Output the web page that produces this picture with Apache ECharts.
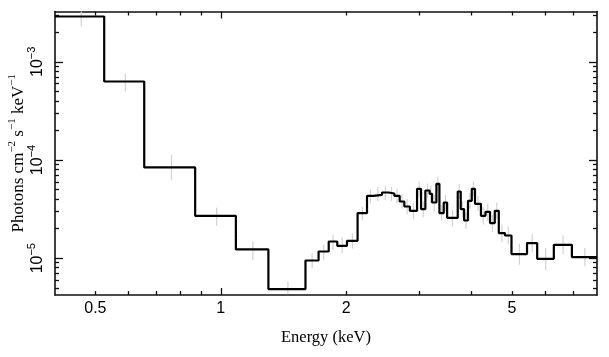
<!DOCTYPE html>
<html><head><meta charset="utf-8">
<script src="https://cdn.jsdelivr.net/npm/echarts@6/dist/echarts.min.js"></script>
<style>html,body{margin:0;padding:0;background:#fff}#c{width:609px;height:357px}</style>
</head><body><div id="c"></div>
<script>
// Bin edges (keV)
const binEdges = [0.4, 0.525, 0.655, 0.868, 1.087, 1.301, 1.597, 1.717, 1.816, 1.904, 2.009, 2.130, 2.244, 2.327, 2.438, 2.529, 2.610, 2.688, 2.758, 2.844, 2.959, 3.025, 3.098, 3.172, 3.215, 3.293, 3.348, 3.429, 3.494, 3.705, 3.767, 3.838, 3.921, 4.004, 4.076, 4.212, 4.319, 4.429, 4.547, 4.649, 4.811, 4.987, 5.434, 5.748, 6.302, 6.963, 8.0];
// Model flux per bin (photons cm^-2 s^-1 keV^-1)
const modelFlux = [2.89e-3, 6.30e-4, 8.39e-5, 2.70e-5, 1.227e-5, 4.85e-6, 9.47e-6, 1.170e-5, 1.480e-5, 1.338e-5, 1.504e-5, 2.879e-5, 4.318e-5, 4.419e-5, 4.667e-5, 4.560e-5, 4.318e-5, 3.779e-5, 3.362e-5, 3.039e-5, 5.089e-5, 3.162e-5, 4.891e-5, 4.525e-5, 3.691e-5, 5.724e-5, 2.879e-5, 3.691e-5, 2.579e-5, 4.777e-5, 3.162e-5, 2.421e-5, 3.841e-5, 5.089e-5, 3.581e-5, 2.70e-5, 2.969e-5, 2.277e-5, 3.039e-5, 1.801e-5, 1.703e-5, 1.101e-5, 1.425e-5, 9.86e-6, 1.369e-5, 1.026e-5];
// Data error bar extents per bin
const dataLo = [2.29e-3, 4.98e-4, 6.3e-5, 2.14e-5, 9.6e-6, 4.3e-6, 7.9e-6, 9.6e-6, 1.22e-5, 1.12e-5, 1.25e-5, 2.45e-5, 3.6e-5, 3.8e-5, 3.9e-5, 3.8e-5, 3.6e-5, 3.2e-5, 2.8e-5, 2.5e-5, 4.2e-5, 2.6e-5, 4.1e-5, 3.7e-5, 3.0e-5, 4.8e-5, 2.4e-5, 3.0e-5, 2.1e-5, 4.0e-5, 2.6e-5, 2.0e-5, 3.2e-5, 4.3e-5, 3.0e-5, 2.2e-5, 2.4e-5, 1.85e-5, 2.5e-5, 1.45e-5, 1.38e-5, 8.6e-6, 1.15e-5, 7.6e-6, 1.1e-5, 8.3e-6];
const dataHi = [3.38e-3, 7.55e-4, 1.13e-4, 3.26e-5, 1.48e-5, 5.8e-6, 1.12e-5, 1.38e-5, 1.74e-5, 1.62e-5, 1.78e-5, 3.35e-5, 5.0e-5, 5.3e-5, 5.4e-5, 5.3e-5, 5.1e-5, 4.5e-5, 4.0e-5, 3.6e-5, 6.0e-5, 3.8e-5, 5.8e-5, 5.4e-5, 4.4e-5, 6.8e-5, 3.5e-5, 4.4e-5, 3.1e-5, 5.7e-5, 3.8e-5, 2.9e-5, 4.6e-5, 6.0e-5, 4.3e-5, 3.3e-5, 3.6e-5, 2.75e-5, 3.7e-5, 2.2e-5, 2.1e-5, 1.4e-5, 1.75e-5, 1.26e-5, 1.7e-5, 1.27e-5];

const xRange = [0.4, 8];
const yRange = [4.22e-6, 3.25e-3];
const xLabelTicks = [0.5, 1, 2, 5];
const xMajorTicks = [1];
const xMinorTicks = [0.5, 0.6, 0.7, 0.8, 0.9, 2, 3, 4, 5, 6, 7];
const yMajorTicks = [1e-5, 1e-4, 1e-3];
const yMinorTicks = [5e-6, 6e-6, 7e-6, 8e-6, 9e-6, 2e-5, 3e-5, 4e-5, 5e-5, 6e-5, 7e-5, 8e-5, 9e-5, 2e-4, 3e-4, 4e-4, 5e-4, 6e-4, 7e-4, 8e-4, 9e-4, 2e-3, 3e-3];
const xTitle = 'Energy (keV)';
const yTitle = '{a|Photons cm}{s|−2}{a| s}{s|−1}{a| keV}{s|−1}';

const L = Math.log10;
const nBins = modelFlux.length;
const stepData = binEdges.map((e, i) => [e, modelFlux[Math.min(i, nBins - 1)]]);
const errData = modelFlux.map((m, i) => [(binEdges[i] + binEdges[i + 1]) / 2, dataLo[i], dataHi[i]]);

const AX = '#111';
function overlayX(pos, ticks, len, withLine, labels) {
  return {
    type: 'value', gridIndex: 0, position: pos, min: L(xRange[0]), max: L(xRange[1]),
    axisLine: { show: withLine, onZero: false, lineStyle: { color: AX, width: 1.6 } },
    axisTick: { show: true, inside: true, length: len, customValues: ticks.map(L), lineStyle: { color: AX, width: 1.3 } },
    axisLabel: labels ? {
      show: true, customValues: xLabelTicks.map(L), margin: 6,
      fontFamily: 'Liberation Sans', fontSize: 16, color: '#000',
      formatter: v => String(Math.round(Math.pow(10, v) * 10) / 10)
    } : { show: false },
    splitLine: { show: false }
  };
}
function overlayY(pos, ticks, len, withLine, labels) {
  return {
    type: 'value', gridIndex: 0, position: pos, min: L(yRange[0]), max: L(yRange[1]),
    axisLine: { show: withLine, onZero: false, lineStyle: { color: AX, width: 1.6 } },
    axisTick: { show: true, inside: true, length: len, customValues: ticks.map(L), lineStyle: { color: AX, width: 1.3 } },
    axisLabel: labels ? {
      show: true, customValues: yMajorTicks.map(L), rotate: 90, margin: 9,
      formatter: v => '{b|10}{s|−' + Math.round(-v) + '}',
      rich: {
        b: { fontFamily: 'Liberation Sans', fontSize: 16, color: '#000', lineHeight: 20, verticalAlign: 'bottom' },
        s: { fontFamily: 'Liberation Sans', fontSize: 11, color: '#000', lineHeight: 20, verticalAlign: 'top' }
      }
    } : { show: false },
    splitLine: { show: false }
  };
}

const xAxes = [
  { type: 'log', logBase: 10, min: xRange[0], max: xRange[1], show: false },
  Object.assign(overlayX('bottom', xMajorTicks, 7, true, true), { name: xTitle, nameLocation: 'middle', nameGap: 34, nameMoveOverlap: false, nameTextStyle: { fontFamily: 'Liberation Serif', fontSize: 16.5, color: '#000' } }),
  overlayX('bottom', xMinorTicks, 4, false, false),
  overlayX('top', xMajorTicks, 7, true, false),
  overlayX('top', xMinorTicks, 4, false, false)
];
const yAxes = [
  { type: 'log', logBase: 10, min: yRange[0], max: yRange[1], show: false },
  Object.assign(overlayY('left', yMajorTicks, 8, true, true), {
    name: yTitle, nameLocation: 'middle', nameGap: 28, nameRotate: 90, nameMoveOverlap: false,
    nameTextStyle: {
      rich: {
        a: { fontFamily: 'Liberation Serif', fontSize: 17, color: '#000', lineHeight: 20, verticalAlign: 'bottom' },
        s: { fontFamily: 'Liberation Serif', fontSize: 11, color: '#000', lineHeight: 20, verticalAlign: 'top' }
      }
    }
  }),
  overlayY('left', yMinorTicks, 4, false, false),
  overlayY('right', yMajorTicks, 8, true, false),
  overlayY('right', yMinorTicks, 4, false, false)
];

const chart = echarts.init(document.getElementById('c'), null, { renderer: 'canvas' });
chart.setOption({
  animation: false,
  backgroundColor: '#fff',
  grid: { left: 55, right: 12, top: 11.5, bottom: 62, containLabel: false, outerBoundsMode: 'none' },
  xAxis: xAxes,
  yAxis: yAxes,
  series: [
    {
      type: 'custom', xAxisIndex: 0, yAxisIndex: 0, z: 1, clip: true,
      data: errData,
      renderItem: (params, api) => {
        const p1 = api.coord([api.value(0), api.value(1)]);
        const p2 = api.coord([api.value(0), api.value(2)]);
        return { type: 'line', shape: { x1: p1[0], y1: p1[1], x2: p2[0], y2: p2[1] }, style: { stroke: '#d2d2d2', lineWidth: 1.2 } };
      }
    },
    {
      type: 'line', xAxisIndex: 0, yAxisIndex: 0, z: 3, step: 'end', showSymbol: false, symbol: 'none',
      data: stepData, clip: true,
      lineStyle: { color: '#000', width: 2.2 }
    }
  ]
});
</script></body></html>
